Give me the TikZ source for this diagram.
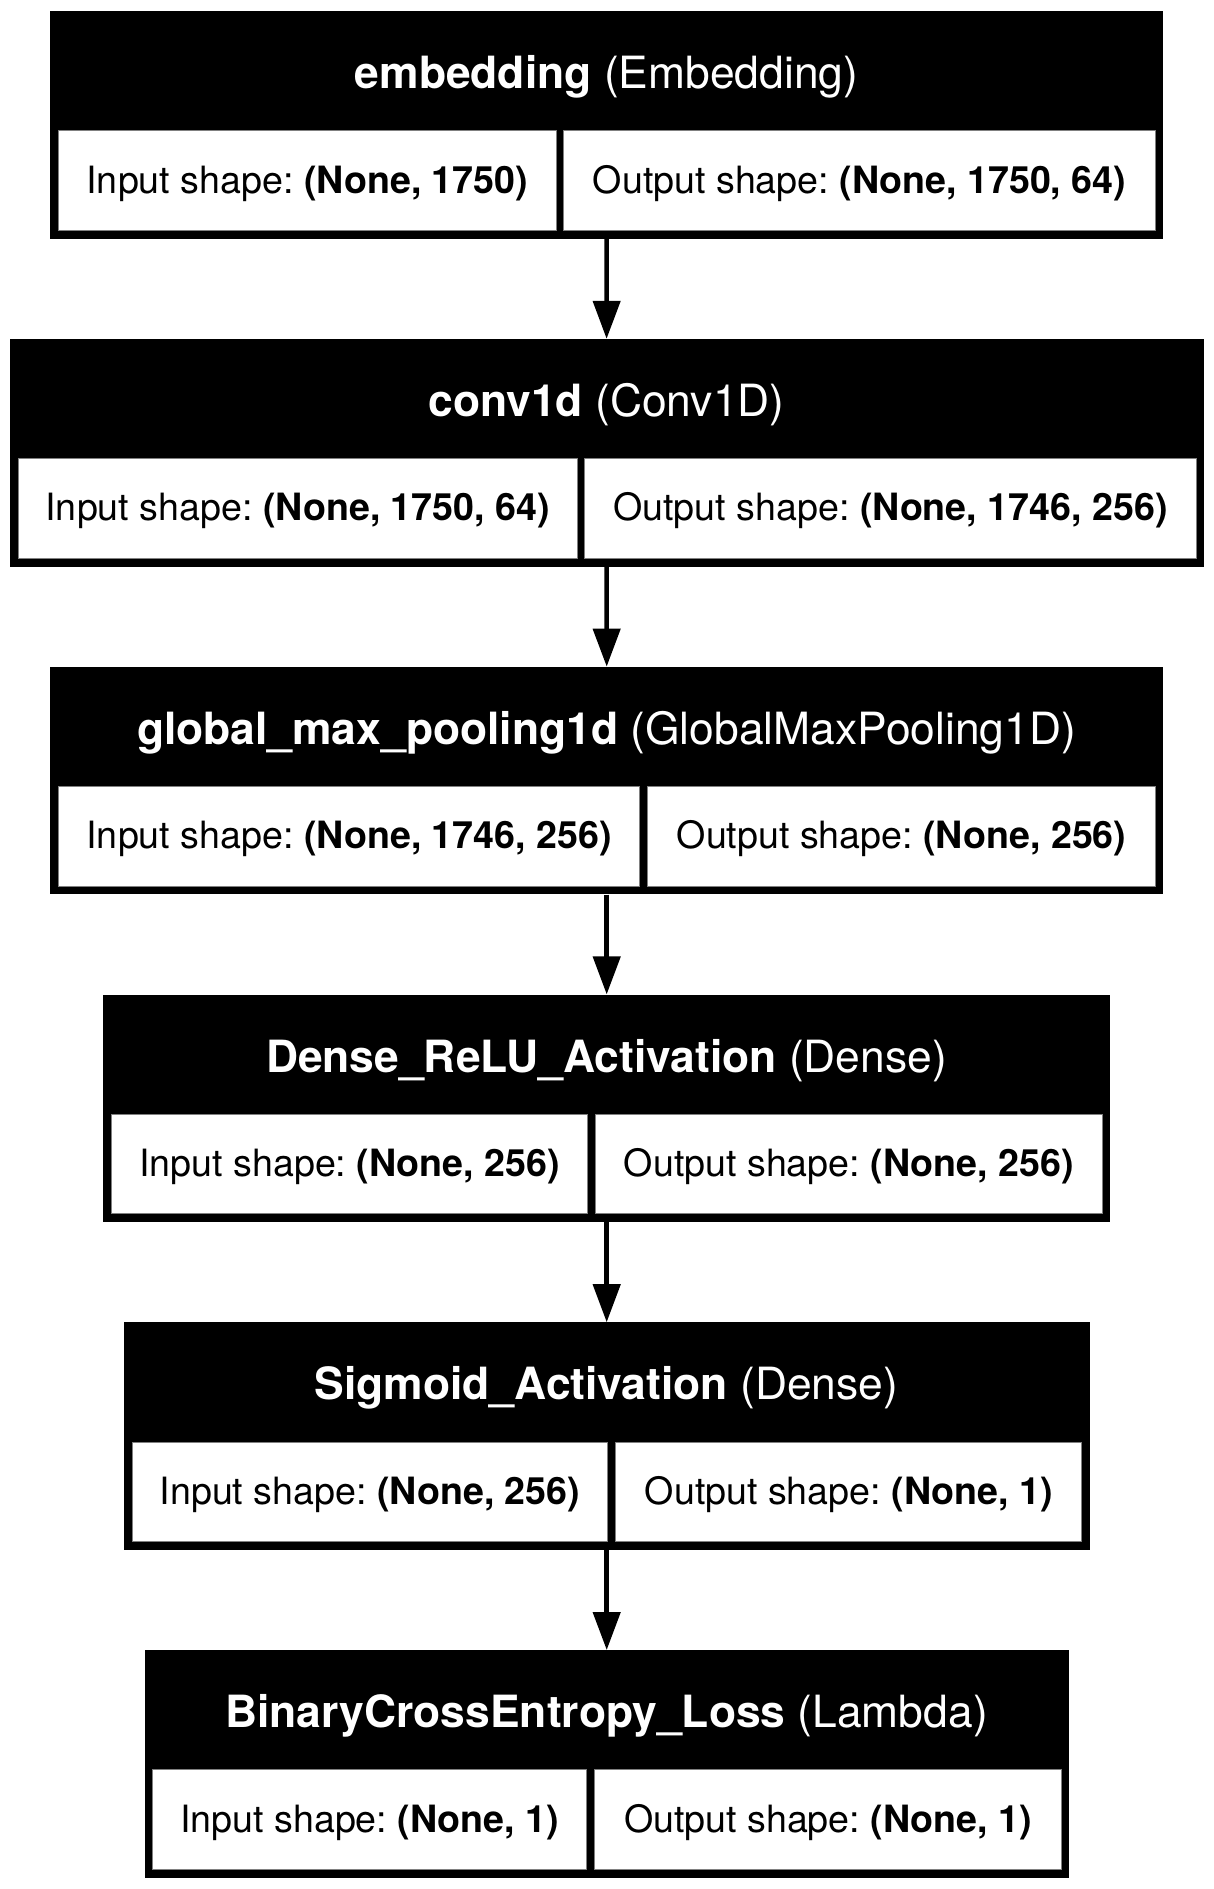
\documentclass[tikz,border=0pt]{standalone}
\usepackage{fontspec}
\setmainfont{TeX Gyre Heros}
\usetikzlibrary{arrows.meta}
\tikzset{
  boxnode/.style={rectangle, fill=black, inner sep=0pt, minimum height=227.5pt, anchor=north west},
  hdrnode/.style={rectangle, inner sep=0pt, text=white, text height=77.5pt, text depth=41.8pt, font=\fontsize{44.4}{52}\selectfont\frenchspacing},
  cellnode/.style={rectangle, fill=white, draw=black!50, line width=0.9pt, inner sep=0pt, minimum height=99.7pt, text height=62.4pt, text depth=37.3pt, anchor=north west, font=\fontsize{37.6}{45}\selectfont\frenchspacing},
  arr/.style={line width=4.5pt, -{Triangle[length=38pt,width=27pt]}}
}
\begin{document}
\begin{tikzpicture}[x=1pt,y=-1pt]
\useasboundingbox (0,0) rectangle (1214,1889);
% box 1
\node[boxnode, minimum width=1113pt] (b1) at (50,11) {};
\node[hdrnode, anchor=north] (h1) at (606.5,11) {\textbf{embedding} (Embedding)};
\node[cellnode, minimum width=497.7pt] (i1) at (58,130.3) {Input shape: \textbf{(None, 1750)}};
\node[cellnode, minimum width=591.7pt] (o1) at (563.3,130.3) {Output shape: \textbf{(None, 1750, 64)}};
% box 2
\node[boxnode, minimum width=1193.8pt] (b2) at (9.5,338.8) {};
\node[hdrnode, anchor=north] (h2) at (606.4,338.8) {\textbf{conv1d} (Conv1D)};
\node[cellnode, minimum width=559pt] (i2) at (17.7,458.1) {Input shape: \textbf{(None, 1750, 64)}};
\node[cellnode, minimum width=611.4pt] (o2) at (584.3,458.1) {Output shape: \textbf{(None, 1746, 256)}};
% box 3
\node[boxnode, minimum width=1113pt] (b3) at (50,666.6) {};
\node[hdrnode, anchor=north] (h3) at (606.5,666.6) {\textbf{global\_max\_pooling1d} (GlobalMaxPooling1D)};
\node[cellnode, minimum width=581.3pt] (i3) at (58,785.9) {Input shape: \textbf{(None, 1746, 256)}};
\node[cellnode, minimum width=507.7pt] (o3) at (647.3,785.9) {Output shape: \textbf{(None, 256)}};
% box 4
\node[boxnode, minimum width=1007pt] (b4) at (103,994.4) {};
\node[hdrnode, anchor=north] (h4) at (606.5,994.4) {\textbf{Dense\_ReLU\_Activation} (Dense)};
\node[cellnode, minimum width=476.3pt] (i4) at (111,1113.7) {Input shape: \textbf{(None, 256)}};
\node[cellnode, minimum width=507.3pt] (o4) at (594.7,1113.7) {Output shape: \textbf{(None, 256)}};
% box 5
\node[boxnode, minimum width=965.8pt] (b5) at (123.6,1322.2) {};
\node[hdrnode, anchor=north] (h5) at (606.5,1322.2) {\textbf{Sigmoid\_Activation} (Dense)};
\node[cellnode, minimum width=475.7pt] (i5) at (131.6,1441.5) {Input shape: \textbf{(None, 256)}};
\node[cellnode, minimum width=466.1pt] (o5) at (615.3,1441.5) {Output shape: \textbf{(None, 1)}};
% box 6
\node[boxnode, minimum width=924.4pt] (b6) at (144.3,1650) {};
\node[hdrnode, anchor=north] (h6) at (606.5,1650) {\textbf{BinaryCrossEntropy\_Loss} (Lambda)};
\node[cellnode, minimum width=433.7pt] (i6) at (152.3,1769.3) {Input shape: \textbf{(None, 1)}};
\node[cellnode, minimum width=466.4pt] (o6) at (594.3,1769.3) {Output shape: \textbf{(None, 1)}};
% arrows
\draw[arr] (b1.south) -- (b2.north);
\draw[arr] (b2.south) -- (b3.north);
\draw[arr] (b3.south) -- (b4.north);
\draw[arr] (b4.south) -- (b5.north);
\draw[arr] (b5.south) -- (b6.north);
\end{tikzpicture}
\end{document}
